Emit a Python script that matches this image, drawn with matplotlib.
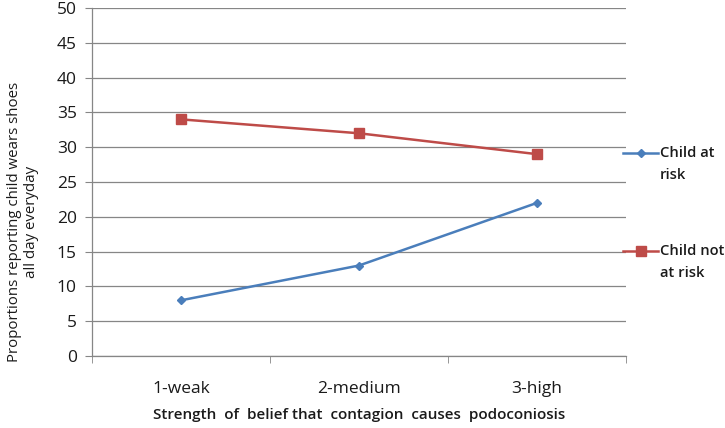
import matplotlib
matplotlib.use("Agg")
import matplotlib.pyplot as plt
from matplotlib.ticker import FixedLocator
from matplotlib.lines import Line2D

categories = ["1-weak", "2-medium", "3-high"]
at_risk = [8, 13, 22]
not_at_risk = [34, 32, 29]
series_names = ["Child at\nrisk", "Child not\nat risk"]

plt.rcParams['font.family'] = ['Open Sans', 'DejaVu Sans']

W, H = 725, 428
fig = plt.figure(figsize=(W / 100, H / 100), dpi=100)
ax = fig.add_axes([92 / W, 1 - 356 / H, (626 - 92) / W, (356 - 8) / H])

blue, red = "#4A7EBB", "#BE4B48"
styles = [dict(color=blue, marker="D", markersize=4.5, linewidth=1.8),
          dict(color=red, marker="s", markersize=6.5, linewidth=1.8)]

x = list(range(len(categories)))
ax.plot(x, at_risk, **styles[0])
ax.plot(x, not_at_risk, **styles[1])

ax.set_xlim(-0.5, 2.5)
ax.set_ylim(0, 50)
ax.set_yticks(range(0, 51, 5))
ax.set_xticks(x)
ax.set_xticklabels(categories)
ax.xaxis.set_minor_locator(FixedLocator([-0.5, 0.5, 1.5, 2.5]))
ax.tick_params(axis='x', which='major', length=0, labelsize=12.5, pad=18, colors='#1a1a1a')
ax.tick_params(axis='x', which='minor', length=5, color='#868686', direction='out')
ax.tick_params(axis='y', length=5, color='#868686', labelsize=12.5, labelcolor='#1a1a1a', pad=6)
ax.grid(axis='y', color='#868686', linewidth=0.9)
ax.set_axisbelow(True)
for s in ['top', 'right']:
    ax.spines[s].set_visible(False)
for s in ['left', 'bottom']:
    ax.spines[s].set_color('#868686')
    ax.spines[s].set_linewidth(0.9)

ax.set_ylabel("Proportions reporting child wears shoes\nall day everyday", fontsize=10.8, color='#1a1a1a')
ax.yaxis.set_label_coords((39 - 92) / 534, 0.385)
ax.set_xlabel("Strength  of  belief that  contagion  causes  podoconiosis", fontsize=11,
              fontweight='semibold', labelpad=8, color='#1a1a1a')

# legend drawn manually (entries aligned with first text line, as in the reference)
for (ypix, name, st) in [(153, series_names[0], styles[0]), (251, series_names[1], styles[1])]:
    yf = 1 - ypix / H
    fig.add_artist(Line2D([623 / W, 658 / W], [yf, yf], transform=fig.transFigure,
                          color=st['color'], linewidth=st['linewidth']))
    fig.add_artist(Line2D([640.5 / W], [yf], transform=fig.transFigure, color=st['color'],
                          marker=st['marker'], markersize=st['markersize'], linestyle='none'))
    for i, line in enumerate(name.split("\n")):
        fig.text(660 / W, yf - i * 22 / H, line, fontsize=10.6, fontweight='semibold',
                 va='center', ha='left', color='#1a1a1a')

fig.savefig("out.png", dpi=100)
